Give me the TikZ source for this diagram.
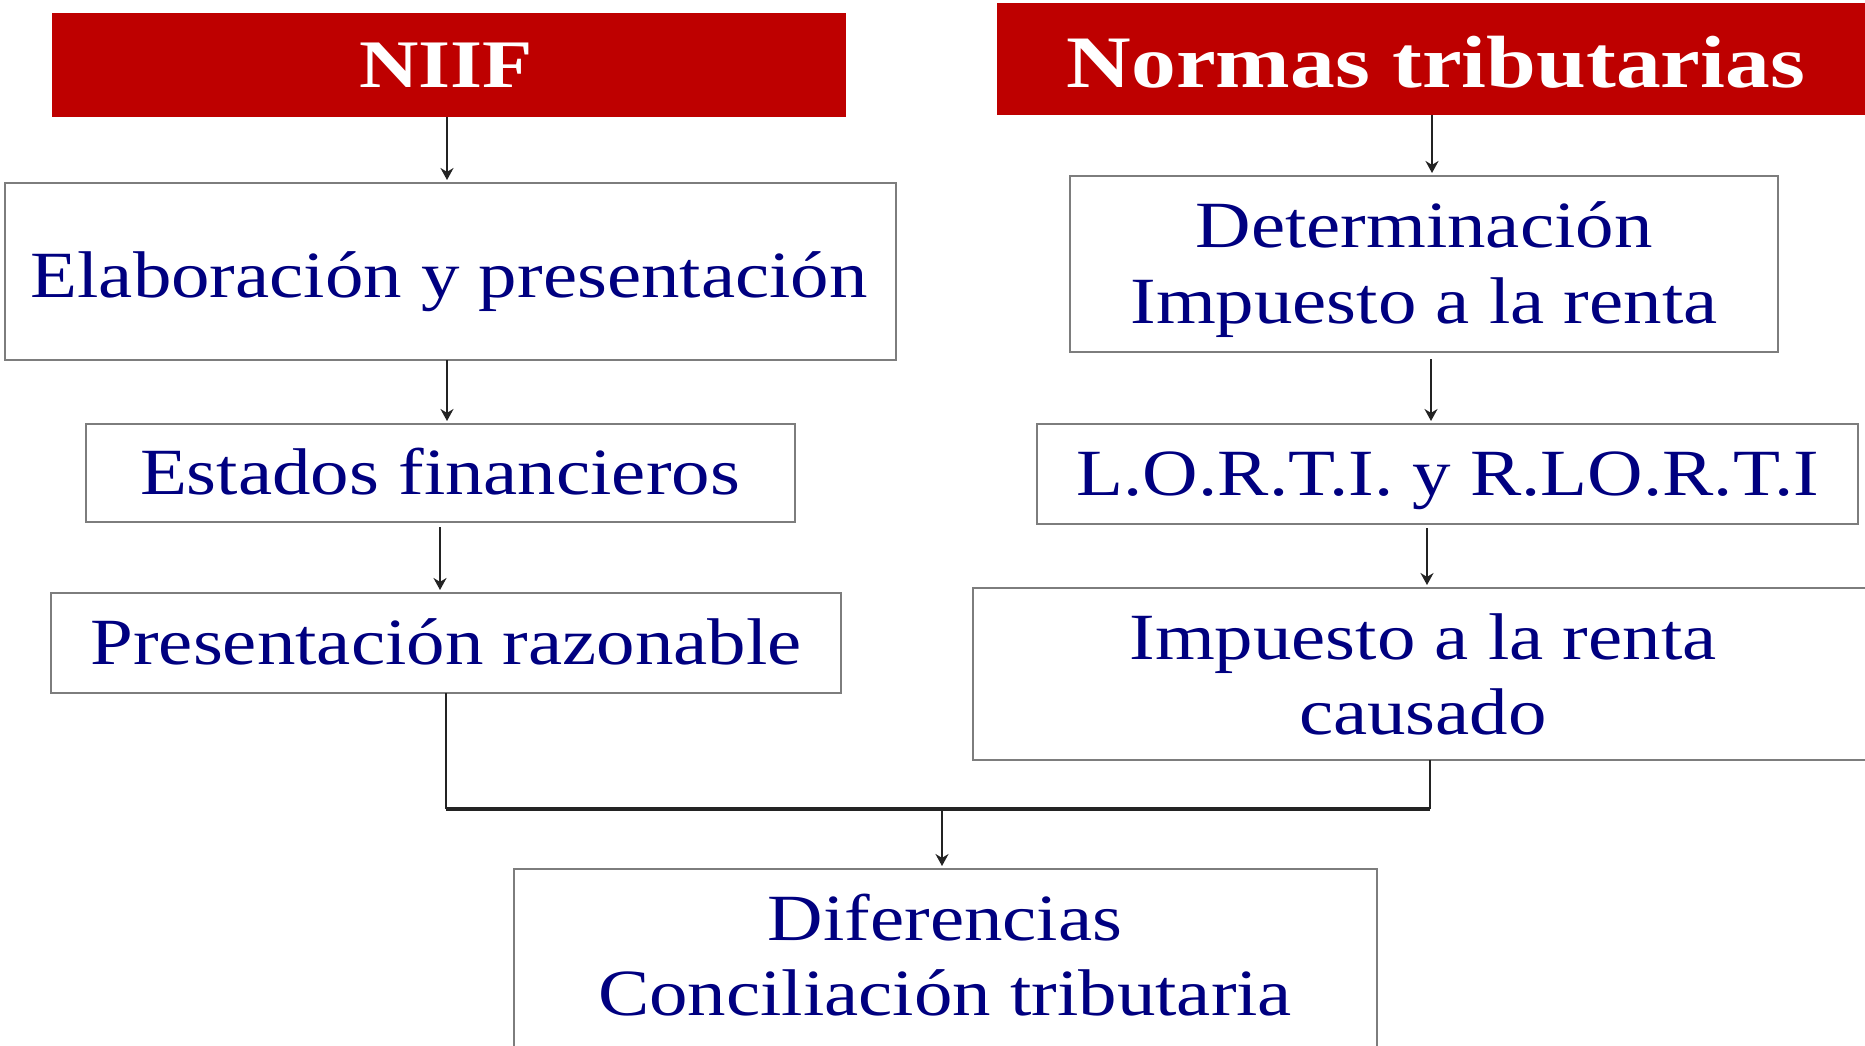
\documentclass[tikz,border=0pt]{standalone}
\usepackage{fontspec}
\setmainfont[FakeStretch=1.165]{Liberation Serif}
\newfontfamily\headfont[FakeStretch=1.21]{Liberation Serif}
\usetikzlibrary{arrows.meta}
\definecolor{hdred}{RGB}{190,0,0}
\definecolor{navytxt}{RGB}{0,0,128}
\definecolor{boxgray}{RGB}{125,125,125}
\definecolor{linegray}{RGB}{35,35,35}
\tikzset{
  hdbox/.style={rectangle, fill=hdred, draw=none, inner sep=0pt, outer sep=0pt},
  stepbox/.style={rectangle, draw=boxgray, line width=2pt, fill=white, inner sep=0pt, outer sep=0pt},
  hdtext/.style={anchor=base, text=white, inner sep=0pt},
  bodytext/.style={anchor=base, text=navytxt, inner sep=0pt, font=\fontsize{66}{76}\selectfont},
  arr/.style={draw=linegray, line width=2.2pt, shorten >=3pt, -{Stealth[length=12pt,width=13pt]}},
  conn/.style={draw=linegray, line width=2pt},
}
\begin{document}
\begin{tikzpicture}[x=1pt,y=-1pt]
\useasboundingbox (0,0) rectangle (1865,1045);
\clip (0,0) rectangle (1865,1045);
\fill[white] (0,0) rectangle (1865,1045);

% header boxes
\node[hdbox, minimum width=794pt, minimum height=104pt] (niif) at (449,65) {};
\node[hdtext, font=\headfont\bfseries\fontsize{68}{76}\selectfont] (niift) at (446,87) {NIIF};
\node[hdbox, minimum width=878pt, minimum height=112pt] (normas) at (1436,59) {};
\node[hdtext, font=\headfont\bfseries\fontsize{74}{80}\selectfont] (normast) at (1436,87) {Normas tributarias};

% left column
\node[stepbox, minimum width=891pt, minimum height=177pt] (elab) at (450.5,271.5) {};
\node[bodytext] (elabt) at (449,297) {Elaboración y presentación};
\node[stepbox, minimum width=709pt, minimum height=98pt] (estados) at (440.5,473) {};
\node[bodytext] (estadost) at (440,494) {Estados financieros};
\node[stepbox, minimum width=790pt, minimum height=100pt] (present) at (446,643) {};
\node[bodytext] (presentt) at (446,664) {Presentación razonable};

% right column
\node[stepbox, minimum width=708pt, minimum height=176pt] (determ) at (1424,264) {};
\node[bodytext] (determt1) at (1424,247) {Determinación};
\node[bodytext] (determt2) at (1424,323) {Impuesto a la renta};
\node[stepbox, minimum width=821pt, minimum height=100pt] (lorti) at (1447.5,474) {};
\node[bodytext] (lortit) at (1448,495) {L.O.R.T.I. y R.LO.R.T.I};
\node[stepbox, minimum width=900pt, minimum height=172pt] (causado) at (1423,674) {};
\node[bodytext] (causadot1) at (1423,659) {Impuesto a la renta};
\node[bodytext] (causadot2) at (1423,734) {causado};

% bottom box
\node[stepbox, minimum width=863pt, minimum height=231pt] (dif) at (945.5,984.5) {};
\node[bodytext] (dift1) at (945,940) {Diferencias};
\node[bodytext] (dift2) at (945,1015) {Conciliación tributaria};

% arrows
\draw[arr] (niif.south -| 447,0) -- (elab.north -| 447,0);
\draw[arr] (elab.south -| 447,0) -- (estados.north -| 447,0);
\draw[arr, shorten <=5pt] (estados.south -| 440,0) -- (present.north -| 440,0);
\draw[arr] (normas.south -| 1432,0) -- (determ.north -| 1432,0);
\draw[arr, shorten <=7pt] (determ.south -| 1431,0) -- (lorti.north -| 1431,0);
\draw[arr, shorten <=4pt] (lorti.south -| 1427,0) -- (causado.north -| 1427,0);

% join
\coordinate (jl) at (446,809);
\coordinate (jr) at (1430,809);
\coordinate (jm) at (942,807);
\draw[conn] (present.south -| 446,0) -- (jl);
\draw[conn] (causado.south -| 1430,0) -- (jr);
\draw[conn, line width=4pt] (jl) -- (jr);
\draw[arr] (jm) -- (dif.north -| jm);
\end{tikzpicture}
\end{document}
